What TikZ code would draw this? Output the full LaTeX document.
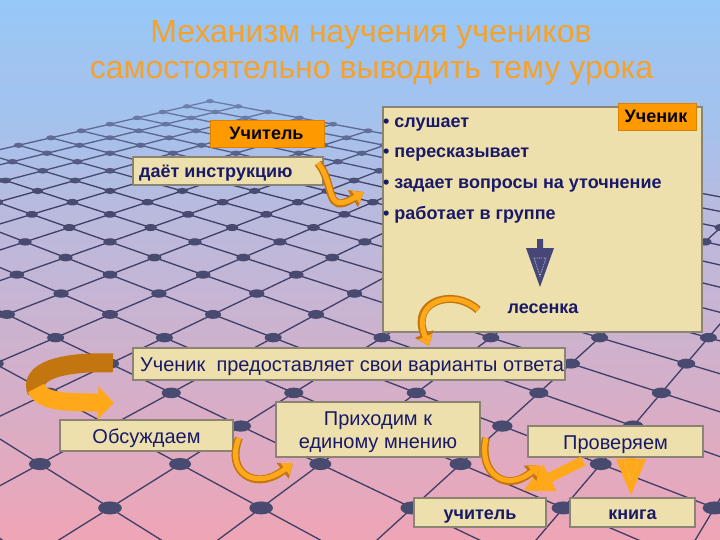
\documentclass[tikz,border=0pt]{standalone}
\usepackage{fontspec}
\setmainfont{Liberation Sans}
\usetikzlibrary{arrows.meta,calc,fadings}
\definecolor{navy}{RGB}{25,25,105}
\definecolor{parch}{RGB}{238,224,172}
\definecolor{parchb}{RGB}{140,132,115}
\definecolor{orbox}{RGB}{255,153,0}
\definecolor{titleor}{RGB}{245,162,45}
\definecolor{gline}{RGB}{62,62,102}
\definecolor{gnode}{RGB}{72,74,112}
\definecolor{ribl}{RGB}{255,168,25}
\definecolor{ribd}{RGB}{195,118,15}
\definecolor{bgtop}{RGB}{150,200,248}
\definecolor{bgmid}{RGB}{196,188,228}
\definecolor{bgbot}{RGB}{238,165,182}
\definecolor{pointer}{RGB}{70,70,120}
\tikzset{
  parbox/.style={draw=parchb, line width=1.2pt, fill=parch, inner sep=0pt, text=navy},
  orbx/.style={fill=orbox, draw=orbox!85!black, line width=0.6pt, inner sep=0pt},
  txtb/.style={font=\fontsize{18}{21}\selectfont\bfseries, text=navy, inner sep=0pt},
  txtr/.style={font=\fontsize{20}{23}\selectfont, text=navy, inner sep=0pt},
  ttl/.style={font=\fontsize{32}{36}\selectfont, text=titleor, inner sep=0pt, anchor=base},
  ribbonback/.style={line width=8pt, draw=ribd, -{Triangle[length=13pt,width=19pt]}},
  ribbonfront/.style={line width=5pt, draw=ribl, -{Triangle[length=10pt,width=14pt]}},
}
\begin{document}
\begin{tikzpicture}[x=1pt,y=-1pt]
\useasboundingbox (0,0) rectangle (720,540);
\clip (0,0) rectangle (720,540);
% background
\shade[top color=bgtop, middle color=bgmid, bottom color=bgbot] (0,0) rectangle (720,540);
% perspective grid
\begin{scope}[line width=1.3pt, draw=gline]
\foreach \i in {-6,...,21}{
  \pgfmathtruncatemacro\je{11-\i}
  \pgfmathsetmacro\Za{22.85-(\i-10)}
  \pgfmathsetmacro\Zb{22.85-(\i+\je)}
  \pgfmathsetmacro\sa{971/\Za}
  \pgfmathsetmacro\sb{971/\Zb}
  \draw[gline] ({110+\sa*(\i+10)},{-100+7812/\Za}) -- ({110+\sb*(\i-\je)},{-100+7812/\Zb});
}
\foreach \j in {-10,...,17}{
  \pgfmathtruncatemacro\ie{11-\j}
  \pgfmathsetmacro\Za{22.85-(\j-6)}
  \pgfmathsetmacro\Zb{22.85-(\j+\ie)}
  \pgfmathsetmacro\sa{971/\Za}
  \pgfmathsetmacro\sb{971/\Zb}
  \draw[gline] ({110+\sa*(-6-\j)},{-100+7812/\Za}) -- ({110+\sb*(\ie-\j)},{-100+7812/\Zb});
}
\foreach \i in {-6,...,21}{
  \foreach \j in {-10,...,17}{
    \pgfmathtruncatemacro\k{\i+\j}
    \ifnum\k<12
      \pgfmathsetmacro\Z{22.85-\k}
      \pgfmathsetmacro\s{971/\Z}
      \pgfmathsetmacro\X{110+\s*(\i-\j)}
      \pgfmathsetmacro\Y{-100+7812/\Z}
      \pgfmathsetmacro\R{152/\Z}
      \pgfmathsetmacro\Ry{0.55*152/\Z}
      \ifdim\X pt>-30pt \ifdim\X pt<750pt
        \fill[gnode] (\X,\Y) ellipse ({\R pt} and {\Ry pt});
      \fi\fi
    \fi
  }
}
\end{scope}
% fade the far part of the grid
\fill[bgtop!85!bgmid, path fading=south, opacity=0.55] (0,85) rectangle (720,190);
% title
\node[ttl] (t1) at (371,43) {Механизм научения учеников};
\node[ttl] (t2) at (371.5,79) {самостоятельно выводить тему урока};

% arrow that passes behind the box
\draw[line width=10pt, draw=ribl, -{Triangle[length=38pt,width=27pt]}] (631,450) coordinate (pv) -- (631,497) coordinate (kn);

% boxes
\node[orbx, minimum width=114pt, minimum height=27pt] (uch) at (267,133.5) {};
\node[txtb, text=black!85!navy, anchor=base] at (266.5,140) {Учитель};
\node[parbox, minimum width=190pt, minimum height=28pt] (instr) at (228,171) {};
\node[txtb, anchor=base west] at (139,177.5) {даёт инструкцию};

\node[parbox, minimum width=319pt, minimum height=225pt] (big) at (542.5,219.5) {};
\node[orbx, minimum width=78pt, minimum height=27pt] (ucn) at (657,116.5) {};
\node[txtb, text=black!85!navy, anchor=base] at (656,123) {Ученик};
\node[txtb, anchor=base west] (b1) at (383,128) {• слушает};
\node[txtb, anchor=base west] (b2) at (383,158) {• пересказывает};
\node[txtb, anchor=base west] (b3) at (383,189) {• задает вопросы на уточнение};
\node[txtb, anchor=base west] (b4) at (383,220) {• работает в группе};
\node[txtb, anchor=base] (les) at (543,313) {лесенка};
\fill[pointer] (537,239) -- (543,239) -- (543,248) -- (554,248) -- (540,287) -- (526,248) -- (537,248) -- cycle;
\draw[white!80!pointer, densely dotted, line width=0.7pt] (534,258) -- (546,258) -- (540,276) -- cycle;

\node[parbox, minimum width=432pt, minimum height=32pt] (otv) at (349,364) {};
\node[txtr, anchor=base west] at (140,371) {Ученик\ \ предоставляет свои варианты ответа};

\node[parbox, minimum width=173pt, minimum height=31pt] (obs) at (146.5,435.5) {};
\node[txtr, anchor=base] at (146.5,443) {Обсуждаем};

\node[parbox, minimum width=204pt, minimum height=55pt] (pri) at (378,429.5) {};
\node[txtr, anchor=base] at (378,425) {Приходим к};
\node[txtr, anchor=base] at (378,448) {единому мнению};

\node[parbox, minimum width=175pt, minimum height=31pt] (pro) at (615.5,441.5) {};
\node[txtr, anchor=base] at (615.5,449) {Проверяем};

\node[parbox, minimum width=132pt, minimum height=29pt] (ut) at (480,512.5) {};
\node[txtb, anchor=base] at (480,519) {учитель};
\node[parbox, minimum width=125pt, minimum height=29pt] (kg) at (632.5,512.5) {};
\node[txtb, anchor=base] at (632.5,519) {книга};

\draw[densely dotted, ribl!60!white, line width=0.6pt] (624,462) -- (638,462) -- (631,480) -- cycle;

% straight arrow from Проверяем to учитель
\coordinate (utip) at (523,491);
\draw[line width=10pt, draw=ribl, -{Triangle[length=30pt,width=28pt]}] (583,461) -- (utip);

% curved ribbon arrows
\coordinate (a1) at (364,192);
\draw[ribbonback] (318,163) .. controls (336,185) and (324,216) .. (a1);
\draw[ribbonfront] (318,163) .. controls (336,185) and (324,216) .. (a1);

\coordinate (a2) at (429,346);
\draw[ribbonback] (478,310) .. controls (455,288) and (410,300) .. (a2);
\draw[ribbonfront] (478,310) .. controls (455,288) and (410,300) .. (a2);

\coordinate (a3) at (293,463);
\draw[ribbonback] (239,438) .. controls (225,472) and (255,492) .. (a3);
\draw[ribbonfront] (239,438) .. controls (225,472) and (255,492) .. (a3);

\coordinate (a4) at (540,465);
\draw[ribbonback] (486,438) .. controls (478,472) and (505,494) .. (a4);
\draw[ribbonfront] (486,438) .. controls (478,472) and (505,494) .. (a4);

% big loop arrow
\coordinate (a5) at (114,403);
\draw[line width=19pt, draw=ribd] (113,363) .. controls (60,361) and (28,372) .. (37,392);
\draw[line width=18pt, draw=ribl, -{Triangle[length=16pt,width=32pt]}] (36,388) .. controls (42,403) and (70,402) .. (a5);
\end{tikzpicture}
\end{document}
